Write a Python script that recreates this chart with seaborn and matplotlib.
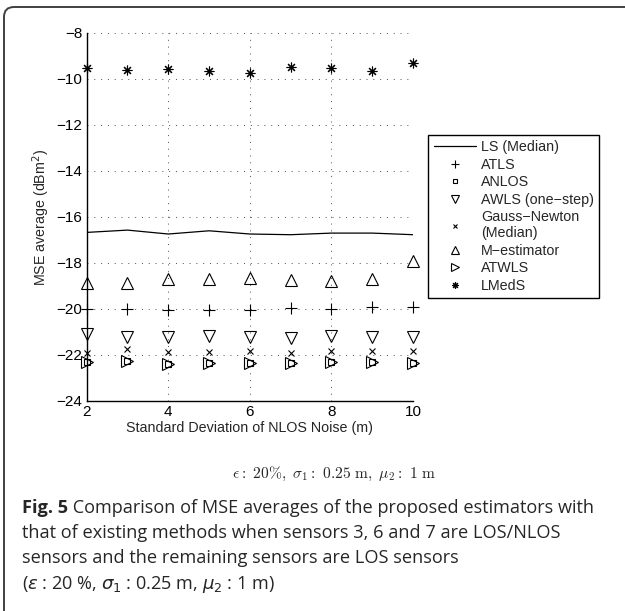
import numpy as np
import pandas as pd
import matplotlib
matplotlib.use("Agg")
import matplotlib.pyplot as plt
import seaborn as sns
from matplotlib.patches import FancyBboxPatch
from matplotlib.transforms import IdentityTransform

# ---------------- data ----------------
std_nlos = [2, 3, 4, 5, 6, 7, 8, 9, 10]
ls_median = [-16.67, -16.57, -16.74, -16.60, -16.74, -16.77, -16.70, -16.70, -16.77]
atls = [-20.00, -19.99, -20.04, -20.04, -20.04, -19.97, -19.99, -19.93, -19.93]
anlos = [-22.29, -22.25, -22.40, -22.35, -22.36, -22.36, -22.32, -22.32, -22.36]
awls = [-21.09, -21.20, -21.22, -21.16, -21.20, -21.26, -21.16, -21.20, -21.20]
gauss_newton = [-21.90, -21.74, -21.85, -21.85, -21.83, -21.90, -21.82, -21.83, -21.83]
m_estimator = [-18.89, -18.89, -18.70, -18.70, -18.67, -18.74, -18.78, -18.71, -17.91]
atwls = [-22.29, -22.25, -22.40, -22.35, -22.36, -22.36, -22.32, -22.32, -22.36]
lmeds = [-9.51, -9.61, -9.57, -9.64, -9.74, -9.46, -9.54, -9.64, -9.30]

x_ticks = [2, 4, 6, 8, 10]
y_ticks = [-24, -22, -20, -18, -16, -14, -12, -10, -8]

series_labels = ["LS (Median)", "ATLS", "ANLOS", "AWLS (one\u2212step)",
                 "Gauss\u2212Newton\n(Median)", "M\u2212estimator", "ATWLS", "LMedS"]

# ---------------- style ----------------
sns.set_style("white")
plt.rcParams["font.family"] = ["Liberation Sans", "DejaVu Sans"]
plt.rcParams["mathtext.fontset"] = "dejavusans"

fig = plt.figure(figsize=(6.25, 6.11), dpi=100)
ax = fig.add_axes([0.1387, 0.3437, 0.5222, 0.6023])

common = dict(ax=ax, color="k", linestyle="", clip_on=False, mec="k", mew=0.8)
sns.lineplot(x=std_nlos, y=ls_median, ax=ax, color="k", lw=0.9, label=series_labels[0])
sns.lineplot(x=std_nlos, y=atls, marker="+", ms=8, label=series_labels[1], **common)
sns.lineplot(x=std_nlos, y=anlos, marker="s", ms=5, mfc="none", label=series_labels[2], **common)
sns.lineplot(x=std_nlos, y=awls, marker="v", ms=8, mfc="none", label=series_labels[3], **common)
sns.lineplot(x=std_nlos, y=gauss_newton, marker="x", ms=4.5, label=series_labels[4], **common)
sns.lineplot(x=std_nlos, y=m_estimator, marker="^", ms=8, mfc="none", label=series_labels[5], **common)
sns.lineplot(x=std_nlos, y=atwls, marker=">", ms=8, mfc="none", label=series_labels[6], **common)
sns.lineplot(x=std_nlos, y=lmeds, marker=(8, 2, 0), ms=7, label=series_labels[7], **common)

ax.set_xlim(2, 10)
ax.set_ylim(-24, -8)
ax.set_xticks(x_ticks)
ax.set_xticklabels([str(v) for v in x_ticks])
ax.set_yticks(y_ticks)
ax.set_yticklabels([f"\u2212{abs(v)}" if v < 0 else str(v) for v in y_ticks])
ax.tick_params(direction="in", length=4, width=0.8, labelsize=11, colors="k",
               top=False, right=False, pad=3)
ax.grid(True, color="0.3", lw=0.7, linestyle=(0, (1, 6)))
for s in ["top", "right"]:
    ax.spines[s].set_visible(False)
for s in ["left", "bottom"]:
    ax.spines[s].set_color("k")
    ax.spines[s].set_linewidth(1.0)
ax.set_xlabel("Standard Deviation of NLOS Noise (m)", fontsize=10.3, labelpad=1)
ax.set_ylabel(r"MSE average (dBm$^2$)", fontsize=10.3, labelpad=3)

leg = ax.legend(loc="upper left", bbox_to_anchor=(0.685, 0.779),
                bbox_transform=fig.transFigure, borderaxespad=0,
                fontsize=10.3, frameon=True, fancybox=False, framealpha=1,
                edgecolor="k", handlelength=3.0, handletextpad=0.3,
                labelspacing=0.24, borderpad=0.38, numpoints=1, markerscale=0.7)
leg.get_frame().set_linewidth(1.0)

# ---------------- outer frame ----------------
frame = FancyBboxPatch((4, -60), 720, 604 + 60, boxstyle="round,pad=0,rounding_size=10",
                       transform=IdentityTransform(), fill=False, ec="0.25", lw=1.4)
fig.add_artist(frame)

# ---------------- captions ----------------
fig.text(334 / 625, 1 - 474 / 611,
         r"$\epsilon\mathrm{:\ 20\%,\ }\sigma_1\mathrm{:\ 0.25\ m,\ }\mu_2\mathrm{:\ 1\ m}$",
         math_fontfamily="cm", fontsize=11.2, ha="center", va="center")

cap_font = ["Open Sans", "DejaVu Sans"]
cap_size = 13.1
x0 = 21.5 / 625
bold = fig.text(x0, 1 - 513 / 611, "Fig. 5", family=cap_font, fontweight="bold",
                fontsize=cap_size, va="baseline", ha="left")
fig.canvas.draw()
r = fig.canvas.get_renderer()
bb = bold.get_window_extent(renderer=r)
fig.text(bb.x1 / fig.bbox.width, 1 - 513 / 611,
         " Comparison of MSE averages of the proposed estimators with",
         family=cap_font, fontsize=cap_size, va="baseline", ha="left")
fig.text(x0, 1 - 538 / 611,
         "that of existing methods when sensors 3, 6 and 7 are LOS/NLOS",
         family=cap_font, fontsize=cap_size, va="baseline", ha="left")
fig.text(x0, 1 - 563 / 611,
         "sensors and the remaining sensors are LOS sensors",
         family=cap_font, fontsize=cap_size, va="baseline", ha="left")
fig.text(x0, 1 - 589 / 611,
         r"($\epsilon$ : 20 %, $\sigma_1$ : 0.25 m, $\mu_2$ : 1 m)",
         family=cap_font, fontsize=cap_size, va="baseline", ha="left")

fig.savefig("out.png", dpi=100, facecolor="white")
